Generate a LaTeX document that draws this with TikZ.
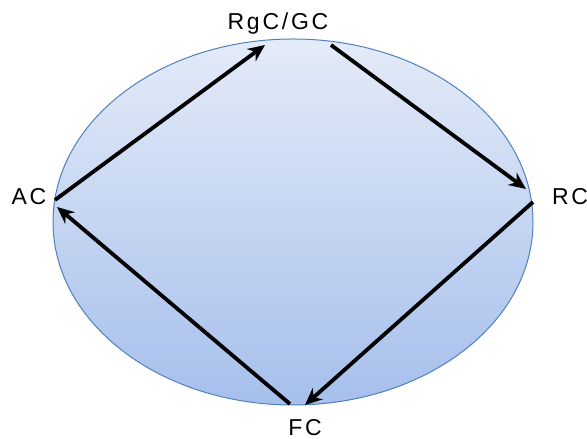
\documentclass[tikz,border=0pt]{standalone}
\usepackage{fontspec}
\newfontfamily\cyclefont{Liberation Sans}[LetterSpace=12]
\usetikzlibrary{arrows.meta, positioning}
\definecolor{RimBlue}{HTML}{4F81BD}
\definecolor{FillTop}{HTML}{E4EBF8}
\definecolor{FillBottom}{HTML}{A6BFEC}

\begin{document}
\begin{tikzpicture}[x=0.5pt, y=0.5pt, >={Stealth[length=8.5pt, width=7.5pt]},
    stage/.style={font=\cyclefont\fontsize{11.5}{13}\selectfont, inner sep=0pt},
    flow/.style={->, line width=1.9pt, black}]
  \useasboundingbox (0,0) rectangle (587,438);
  % --- Cycle body ---
  \shade[top color=FillTop, bottom color=FillBottom, draw=RimBlue, line width=0.5pt]
    (293,216) ellipse [x radius=240, y radius=183];
  % --- Stage labels ---
  \node[stage] (RgC) at (278,414) {RgC/GC};
  \node[stage] (AC)  at (29,241)  {AC};
  \node[stage] (RC)  at (570,241) {RC};
  \node[stage] (FC)  at (305,10)  {FC};
  % --- Arrow ends on the rim ---
  \coordinate (AC-out) at (55,238);
  \coordinate (RgC-in) at (265,393);
  \coordinate (RgC-out) at (331,393);
  \coordinate (RC-in) at (526,249);
  \coordinate (RC-out) at (533,236);
  \coordinate (FC-in) at (305,33);
  \coordinate (FC-out) at (290,34);
  \coordinate (AC-in) at (57,231);
  % --- Flows ---
  \draw[flow] (AC-out) -- (RgC-in);
  \draw[flow] (RgC-out) -- (RC-in);
  \draw[flow] (RC-out) -- (FC-in);
  \draw[flow] (FC-out) -- (AC-in);
\end{tikzpicture}
\end{document}
